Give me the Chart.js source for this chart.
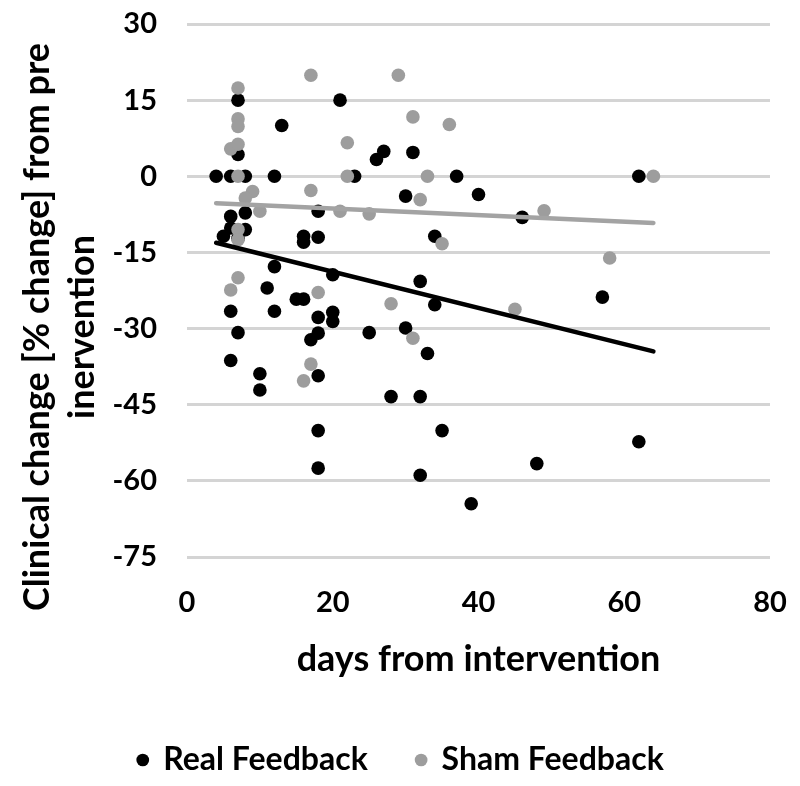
<!DOCTYPE html>
<html><head><meta charset="utf-8">
<script src="https://cdn.jsdelivr.net/npm/chart.js@4"></script>
<style>html,body{margin:0;padding:0;background:#fff}</style>
</head><body>
<canvas id="c" width="800" height="786"></canvas>
<script>
// ---- data ----
const realDays   = [4, 6, 8, 12, 7, 13, 7, 6, 8, 8, 6, 5, 7, 12, 11, 15, 16, 6, 12, 7, 6, 10, 10,
                    21, 27, 26, 31, 23, 37, 30, 18, 16, 16, 18, 34, 20, 32, 34, 18, 20, 20, 18, 17, 25, 30, 33, 18, 28, 32, 18, 35, 18, 32, 39,
                    62, 40, 46, 57, 62, 48];
const realChange = [0, 0, 0, 0, 15, 10, 4.3, -7.9, -7.2, -10.5, -10.2, -11.8, -12.2, -17.8, -22, -24.2, -24.2, -26.6, -26.6, -30.8, -36.3, -38.9, -42.1,
                    15, 4.9, 3.3, 4.7, 0, 0, -3.9, -6.9, -11.8, -13, -12, -11.8, -19.4, -20.7, -25.3, -27.8, -26.8, -28.6, -30.9, -32.2, -30.8, -29.9, -34.9, -39.3, -43.4, -43.4, -50.1, -50.1, -57.5, -58.9, -64.5,
                    0, -3.6, -8.1, -23.8, -52.3, -56.6];
const shamDays   = [7, 7, 7, 6, 7, 7, 9, 8, 10, 7, 7, 7, 6,
                    17, 29, 31, 36, 22, 22, 33, 17, 32, 21, 25, 35, 18, 28, 31, 17, 16,
                    64, 49, 58, 45];
const shamChange = [17.4, 11.3, 9.8, 5.4, 6.3, 0, -3, -4.3, -6.9, -10.5, -12.5, -20, -22.4,
                    19.9, 19.9, 11.7, 10.2, 6.6, 0, 0, -2.8, -4.6, -6.9, -7.4, -13.3, -22.9, -25.1, -31.9, -37, -40.3,
                    0, -6.8, -16.1, -26.2];
const realTrendDays = [4, 64];
const realTrendChange = [-13.1, -34.5];
const shamTrendDays = [4, 64];
const shamTrendChange = [-5.3, -9.2];
const xTickValues = [0, 20, 40, 60, 80];
const yTickValues = [30, 15, 0, -15, -30, -45, -60, -75];
const seriesNames = ['Real Feedback', 'Sham Feedback'];
const xTitle = 'days from intervention';
const yTitle = ['Clinical change [% change] from pre', 'inervention'];

// ---- styles ----
const FONT = 'Lato';
const BLACK = '#000000';
const GRAY = '#9d9d9d';
const GRAY_LINE = '#a3a3a3';

const pts = (xs, ys) => xs.map((x, i) => ({x, y: ys[i]}));

const yTitlePlugin = {
  id: 'yTitle',
  afterDraw(chart) {
    const c = chart.ctx;
    c.save();
    c.fillStyle = BLACK;
    c.font = 'bold 36px ' + FONT;
    c.textAlign = 'center';
    c.textBaseline = 'middle';
    const cx = [37, 82];
    yTitle.forEach((t, i) => {
      c.save();
      c.translate(cx[i], 327);
      c.rotate(-Math.PI / 2);
      c.fillText(t, 0, 0);
      c.restore();
    });
    c.restore();
  }
};

const tickFont = {family: FONT, weight: 'bold', size: 29};
const titleFont = {family: FONT, weight: 'bold', size: 36};
const legendFont = {family: FONT, weight: 'bold', size: 32};

new Chart(document.getElementById('c'), {
  type: 'scatter',
  data: {
    datasets: [
      {label: seriesNames[0], data: pts(realDays, realChange), backgroundColor: BLACK, borderColor: BLACK,
       borderWidth: 0, pointRadius: 6.8, pointHoverRadius: 6.8, pointBorderWidth: 0, order: 3},
      {label: seriesNames[1], data: pts(shamDays, shamChange), backgroundColor: GRAY, borderColor: GRAY,
       borderWidth: 0, pointRadius: 6.8, pointHoverRadius: 6.8, pointBorderWidth: 0, order: 2},
      {type: 'line', label: 'real trend', data: pts(realTrendDays, realTrendChange), borderColor: BLACK,
       borderWidth: 4.5, pointRadius: 0, fill: false, borderCapStyle: 'round', order: 0},
      {type: 'line', label: 'sham trend', data: pts(shamTrendDays, shamTrendChange), borderColor: GRAY_LINE,
       borderWidth: 4.5, pointRadius: 0, fill: false, borderCapStyle: 'round', order: 1}
    ]
  },
  options: {
    responsive: false,
    animation: false,
    devicePixelRatio: 1,
    layout: {padding: {left: 32, right: 30, top: 24, bottom: 0}},
    plugins: {
      tooltip: {enabled: false},
      legend: {
        position: 'bottom',
        labels: {
          usePointStyle: true,
          boxWidth: 9, boxHeight: 9,
          padding: 10,
          color: BLACK,
          font: legendFont,
          sort: (a, b) => a.datasetIndex - b.datasetIndex,
          filter: item => item.datasetIndex < 2,
          generateLabels: chart => {
            const items = Chart.defaults.plugins.legend.labels.generateLabels(chart);
            items.forEach(it => { if (it.datasetIndex === 0) it.text = it.text + '     '; it.lineWidth = 0; });
            return items;
          }
        }
      }
    },
    scales: {
      x: {
        type: 'linear', min: 0, max: 80,
        afterBuildTicks: s => { s.ticks = xTickValues.map(v => ({value: v})); },
        afterFit: s => { s.height = 177; s.paddingLeft = 0; s.paddingRight = 0; },
        grid: {display: false},
        border: {display: false},
        ticks: {font: tickFont, color: BLACK, padding: 20, maxRotation: 0},
        title: {display: true, text: xTitle, font: titleFont, color: BLACK, padding: {top: 0, bottom: 53}}
      },
      y: {
        type: 'linear', min: -75, max: 30,
        afterBuildTicks: s => { s.ticks = yTickValues.map(v => ({value: v})); },
        afterFit: s => { s.width = 155; s.paddingTop = 0; s.paddingBottom = 0; },
        grid: {color: '#d4d4d4', lineWidth: 3, drawTicks: false},
        border: {display: false},
        ticks: {font: tickFont, color: BLACK, padding: 30}
      }
    }
  },
  plugins: [yTitlePlugin]
});
</script>
</body></html>
